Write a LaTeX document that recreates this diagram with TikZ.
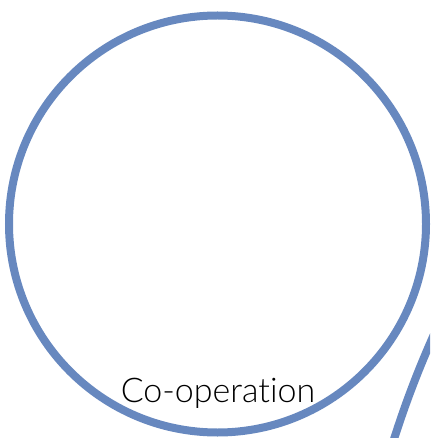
\documentclass[tikz,border=0pt]{standalone}
\usepackage{fontspec}
\setmainfont{Lato}[UprightFont=* Light, Ligatures=NoCommon]
\usetikzlibrary{positioning}
\definecolor{setblue}{HTML}{6788BF}

\begin{document}
\begin{tikzpicture}[x=1pt, y=-1pt,
  setring/.style={circle, draw=setblue, line width=8pt, inner sep=0pt, minimum size=417pt},
  setlabel/.style={font=\fontsize{34}{40}\selectfont, text=black, anchor=base}]

% Frame of the cut-out
\useasboundingbox (0,0) rectangle (430,438);
\clip (0,0) rectangle (430,438);

% Sets
\node[setring] (coop) at (217.5,224) {};
\node[setring, minimum size=2000pt] (next) at (1347,743) {};

% Label
\node[setlabel] (cooplbl) at (218,402) {Co-operation};

\end{tikzpicture}
\end{document}
